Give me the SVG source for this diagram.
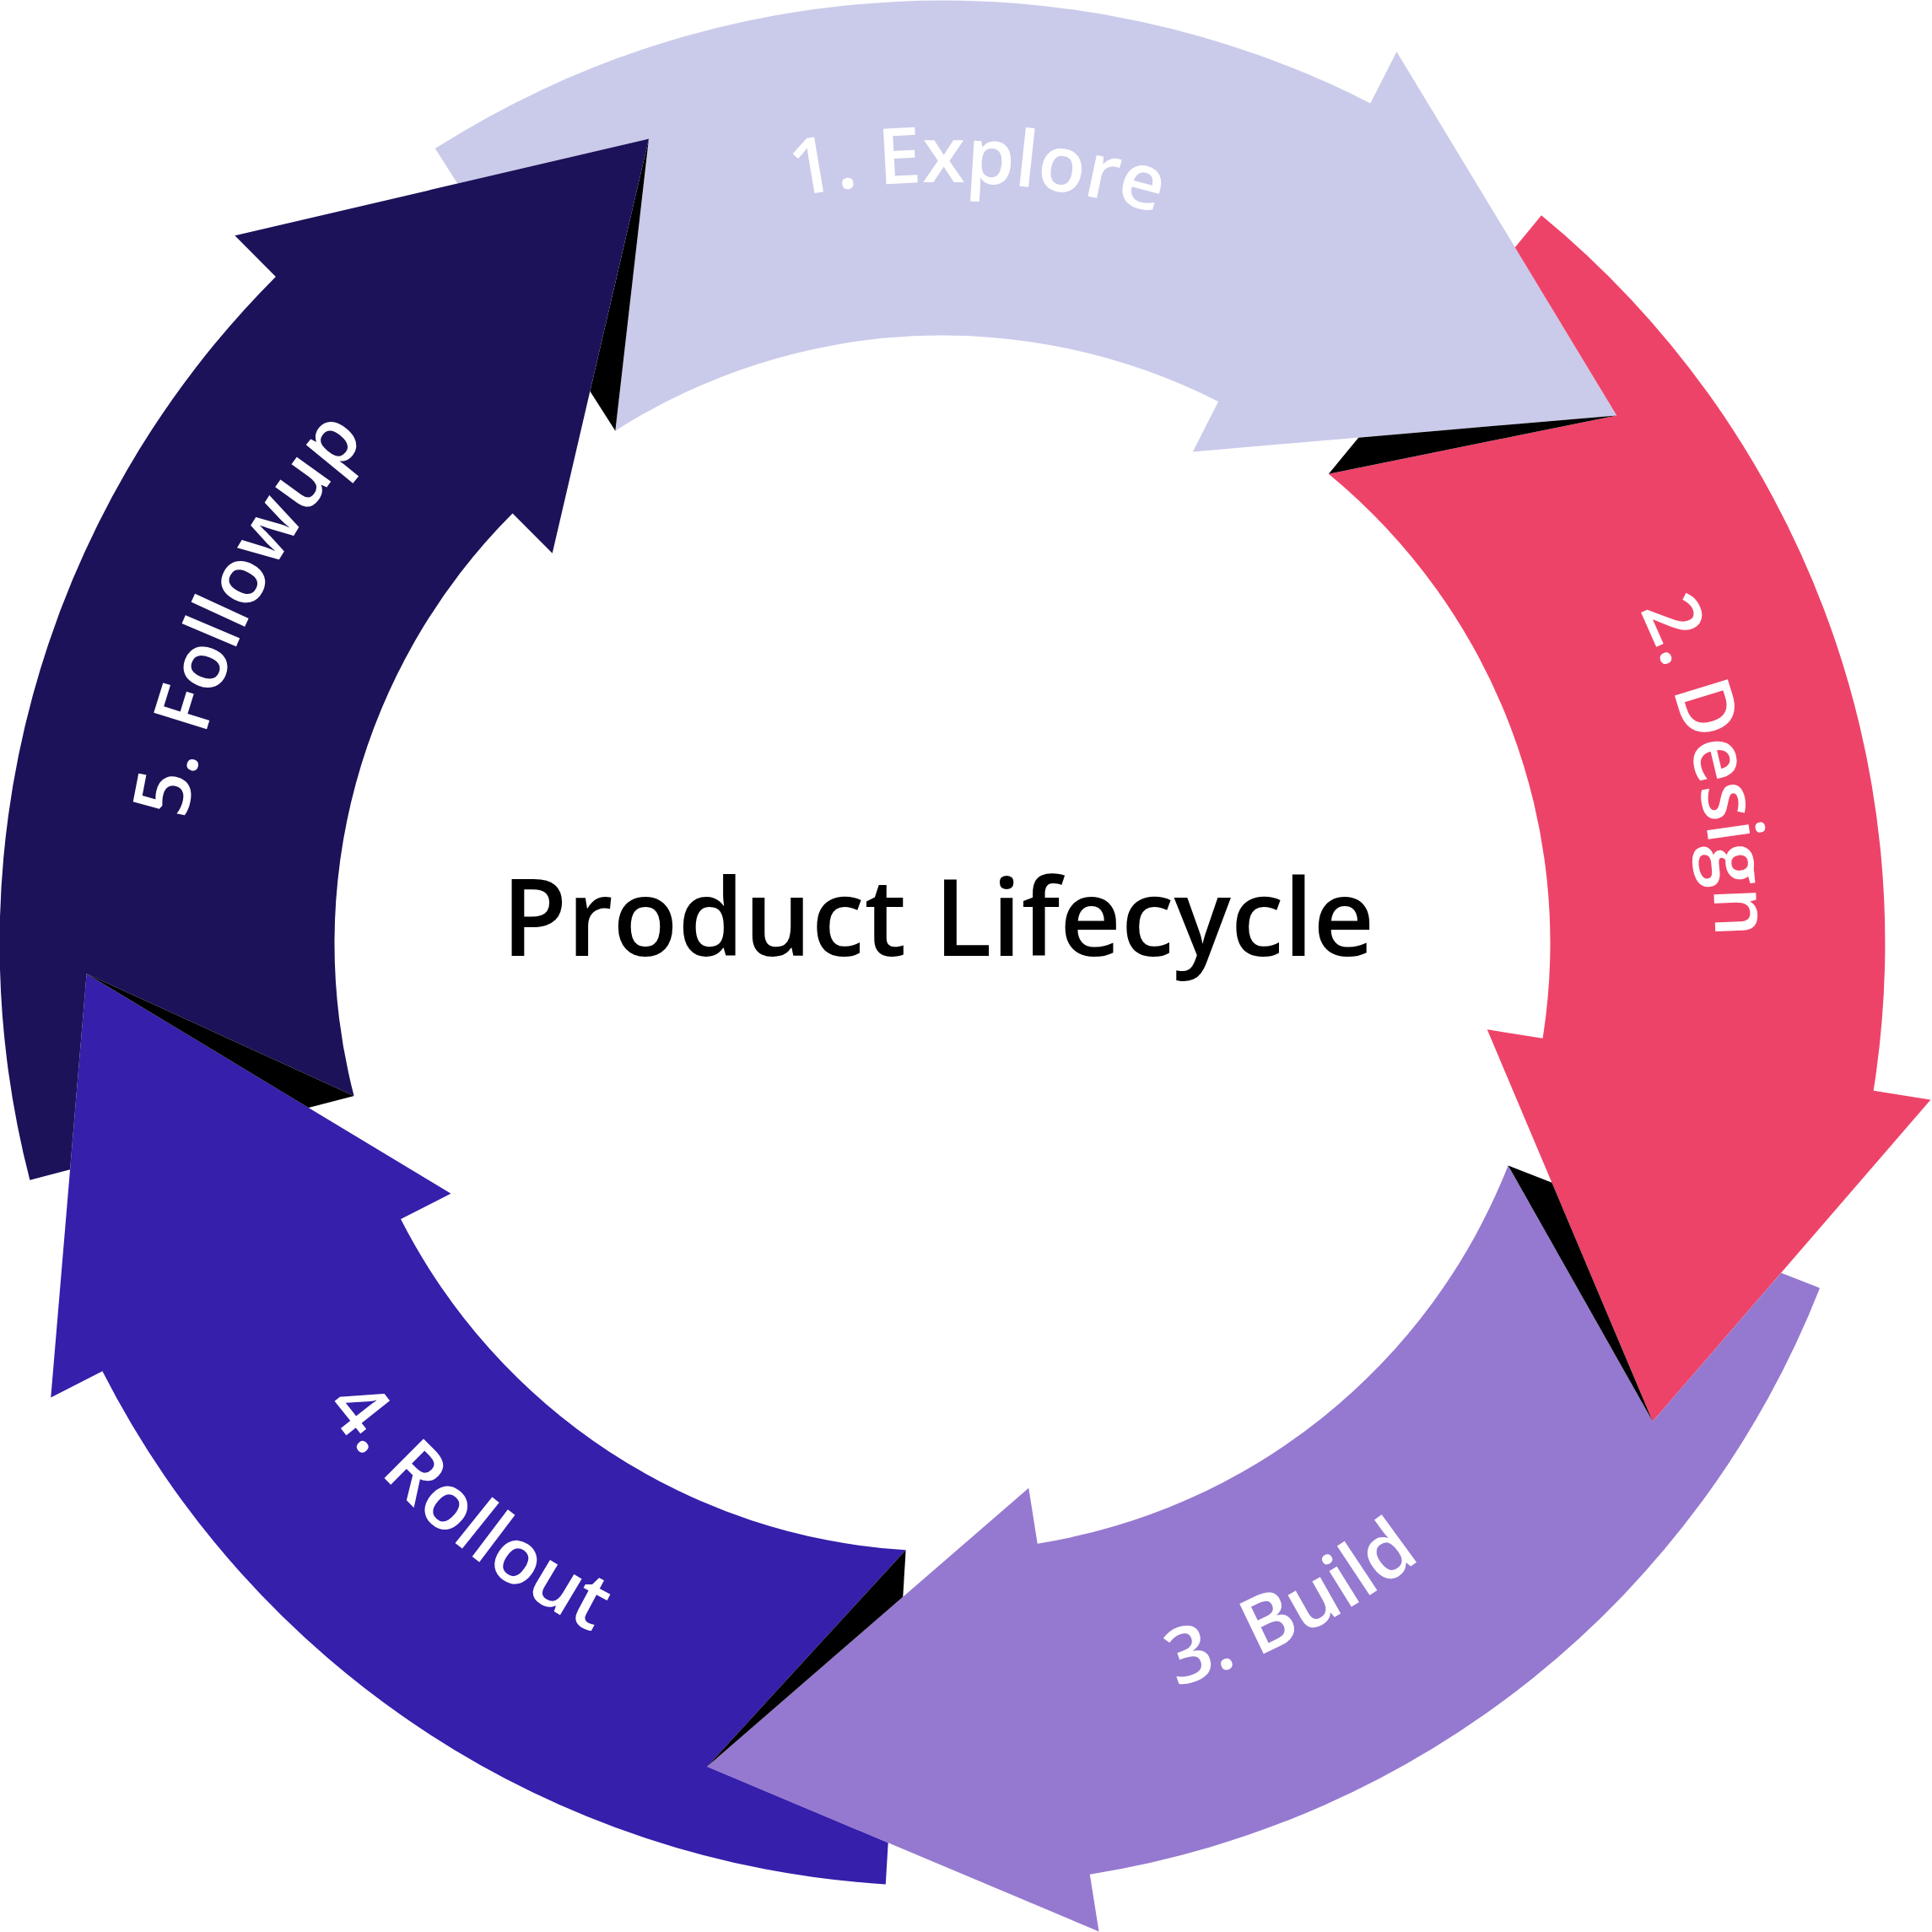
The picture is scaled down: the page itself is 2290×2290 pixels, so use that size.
<svg xmlns="http://www.w3.org/2000/svg" width="2290" height="2290" viewBox="0 0 2290 2290">
  <style>
    .explore { fill: #CACBEA; }
    .design { fill: #EE4368; }
    .build { fill: #9579D0; }
    .rollout { fill: #351FAB; }
    .followup { fill: #1C1259; }
    .fold { fill: #000000; }
    .label { font-family: "Open Sans", "Liberation Sans", sans-serif; font-weight: 600; font-size: 92px; fill: #FFFFFF; }
    .title { font-family: "Open Sans", "Liberation Sans", sans-serif; font-weight: 600; font-size: 126px; fill: #000000; }
  </style>
  <defs>
    <path id="arrow" d="M 515.78 176.09 A 1117.4 1117.4 0 0 1 1624.29 122.39 L 1655.43 61.26 L 1916.28 492.40 L 1413.82 535.46 L 1444.10 476.03 A 720.5 720.5 0 0 0 729.34 510.65 L 769.02 164.52 L 542.28 217.59 Z"/>
    <path id="foldShape" d="M 769.02 164.52 L 699.38 463.71 L 729.34 510.65 Z"/>
    <path id="tp-explore" d="M 701.90 317.19 A 902 902 0 0 1 1602.97 358.11"/>
    <path id="tp-design" d="M 1786.92 493.29 A 916 916 0 0 1 1992.97 1385.81"/>
    <path id="tp-build" d="M 1079.92 2041.25 A 924 924 0 0 0 1898.02 1611.74"/>
    <path id="tp-rollout" d="M 256.24 1431.29 A 916 916 0 0 0 957.94 2020.08"/>
    <path id="tp-followup" d="M 212.19 1193.98 A 908 908 0 0 1 598.80 372.40"/>
  </defs>

  <g id="connectors"></g>

  <g id="node-explore">
    <use href="#arrow" class="explore"/>
    <use href="#foldShape" class="fold"/>
    <text class="label" text-anchor="middle"><textPath href="#tp-explore" startOffset="50%">1. Explore</textPath></text>
  </g>

  <g id="node-design">
    <g transform="rotate(72 1117 1118)">
      <use href="#arrow" class="design"/>
      <use href="#foldShape" class="fold"/>
    </g>
    <text class="label" text-anchor="middle"><textPath href="#tp-design" startOffset="50%">2. Design</textPath></text>
  </g>

  <g id="node-build">
    <g transform="rotate(144 1117 1118)">
      <use href="#arrow" class="build"/>
      <use href="#foldShape" class="fold"/>
    </g>
    <text class="label" text-anchor="middle"><textPath href="#tp-build" startOffset="50%">3. Build</textPath></text>
  </g>

  <g id="node-rollout">
    <g transform="rotate(216 1117 1118)">
      <use href="#arrow" class="rollout"/>
      <use href="#foldShape" class="fold"/>
    </g>
    <text class="label" text-anchor="middle"><textPath href="#tp-rollout" startOffset="50%">4. Rollout</textPath></text>
  </g>

  <g id="node-followup">
    <g transform="rotate(288 1117 1118)">
      <use href="#arrow" class="followup"/>
      <use href="#foldShape" class="fold"/>
    </g>
    <text class="label" text-anchor="middle"><textPath href="#tp-followup" startOffset="50%">5. Followup</textPath></text>
  </g>

  <g id="node-title">
    <text class="title" x="1112" y="1133" text-anchor="middle">Product Lifecycle</text>
  </g>
</svg>
